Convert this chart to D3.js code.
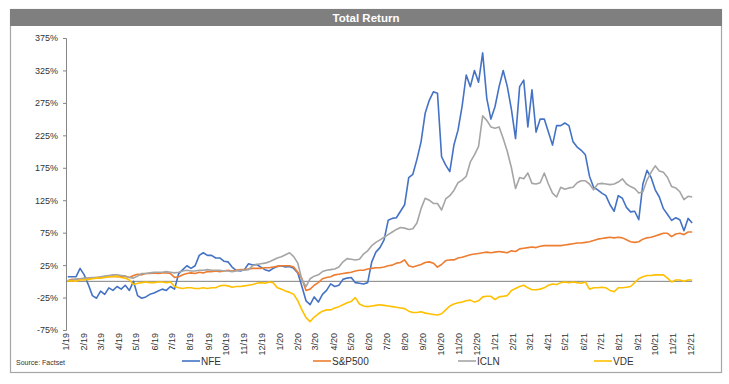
<!DOCTYPE html>
<html lang="en">
<head>
<meta charset="UTF-8">
<title>Total Return</title>
<script src="https://d3js.org/d3.v7.min.js"></script>
<style>
    body { margin: 0; background: #fff; }
    svg { display: block; font-family: "Liberation Sans", Arial, sans-serif; }
</style>
</head>
<body>
<div id="chart"></div>
<script>
    var width = 729, height = 384;

    // month labels on the x axis
    var monthLabels = ["1/19", "2/19", "3/19", "4/19", "5/19", "6/19", "7/19", "8/19", "9/19", "10/19", "11/19", "12/19",
                       "1/20", "2/20", "3/20", "4/20", "5/20", "6/20", "7/20", "8/20", "9/20", "10/20", "11/20", "12/20",
                       "1/21", "2/21", "3/21", "4/21", "5/21", "6/21", "7/21", "8/21", "9/21", "10/21", "11/21", "12/21"];
    var yTicks = [-75, -25, 25, 75, 125, 175, 225, 275, 325, 375];

    // weekly observations, first one on this date
    var firstDate = "2019-01-04";

    // total return in %, one value per week
    var nfe = [7, 7, 7, 20, 10, -5, -22, -26, -15, -20,
               -10, -14, -8, -12, -6, -14, 0, -22, -26, -24,
               -20, -18, -15, -12, -14, -8, -12, 12, 18, 24,
               20, 24, 40, 44, 40, 40, 36, 36, 31, 30,
               22, 17, 16, 18, 27, 25, 26, 22, 18, 16,
               20, 23, 24, 22, 23, 20, 13, -8, -30, -36,
               -24, -32, -20, -14, -4, -8, -6, 3, 5, 6,
               -2, -3, -4, -2, 30, 45, 52, 64, 94, 97,
               98, 108, 118, 160, 165, 188, 215, 259, 279, 292,
               290, 192, 179, 169, 210, 233, 270, 318, 300, 325,
               307, 352, 282, 250, 269, 300, 325, 300, 265, 220,
               300, 310, 238, 295, 230, 250, 250, 230, 210, 240,
               240, 244, 240, 215, 207, 202, 195, 162, 145, 141,
               136, 132, 118, 108, 132, 128, 114, 107, 108, 95,
               150, 171, 160, 141, 130, 112, 103, 94, 98, 95,
               78, 97, 90];

    var spx = [1, 3, 3, 4, 4, 5, 5, 6, 6, 7,
               7, 8, 7, 8, 8, 6, 9, 11, 10, 12,
               12, 13, 12, 13, 13, 12, 6, 7, 10, 12,
               13, 12, 14, 13, 15, 15, 16, 15, 16, 17,
               16, 17, 18, 18, 19, 20, 20, 20, 21, 21,
               22, 23, 24, 24, 24, 22, 14, 4, -14, -12,
               -6, -2, 4, 6, 7, 10, 11, 12, 13, 14,
               16, 17, 17, 19, 20, 21, 21, 22, 24, 25,
               28, 29, 33, 24, 22, 24, 26, 29, 30, 28,
               22, 26, 32, 33, 33, 36, 37, 39, 41, 42,
               43, 44, 45, 44, 45, 46, 45, 44, 47, 46,
               50, 51, 52, 53, 52, 54, 55, 55, 55, 55,
               55, 56, 57, 58, 59, 59, 60, 61, 63, 65,
               66, 67, 68, 67, 68, 67, 64, 61, 60, 61,
               65, 67, 68, 70, 72, 74, 74, 69, 73, 74,
               72, 76, 76];

    var icln = [1, 2, 3, 4, 5, 5, 6, 6, 7, 8,
                9, 10, 10, 9, 8, 6, 5, 8, 12, 12,
                13, 14, 14, 14, 15, 14, 13, 14, 16, 17,
                16, 16, 17, 17, 18, 17, 17, 17, 16, 16,
                15, 16, 17, 17, 18, 24, 26, 27, 28, 30,
                33, 36, 38, 41, 44, 38, 28, 2, -8, 4,
                8, 10, 15, 17, 18, 19, 22, 30, 35, 34,
                33, 34, 42, 47, 55, 60, 64, 68, 72, 76,
                80, 83, 82, 80, 81, 90, 112, 128, 125, 120,
                120, 110, 127, 132, 140, 152, 156, 162, 184, 195,
                208, 255, 248, 238, 236, 238, 220, 200, 175, 143,
                160, 158, 167, 151, 150, 152, 167, 150, 136, 130,
                145, 142, 144, 145, 152, 155, 155, 150, 141, 150,
                151, 150, 149, 150, 153, 158, 150, 146, 143, 136,
                138, 156, 168, 178, 170, 168, 160, 146, 144, 138,
                126, 131, 130];

    var vde = [0, 1, 0, 2, 2, 3, 4, 5, 5, 6,
               7, 7, 8, 6, 5, 2, -5, -3, -2, -1,
               -2, -2, -1, -1, -2, -1, -8, -10, -11, -10,
               -10, -11, -11, -10, -11, -10, -10, -7, -6, -7,
               -9, -8, -8, -7, -6, -5, -3, -2, -3, -1,
               -2, -10, -12, -15, -17, -20, -30, -44, -56, -62,
               -55, -50, -46, -44, -44, -41, -39, -36, -33, -31,
               -25, -35, -38, -39, -38, -37, -36, -37, -38, -39,
               -40, -41, -42, -46, -48, -48, -47, -49, -50, -51,
               -52, -50, -44, -38, -35, -33, -32, -30, -29, -32,
               -30, -24, -23, -23, -28, -24, -23, -22, -14, -11,
               -8, -6, -10, -13, -13, -12, -10, -6, -4, -5,
               -2, -1, -2, -1, -2, -3, -1, -12, -10, -10,
               -9, -10, -14, -16, -10, -10, -9, -8, -2, 4,
               7, 9, 9, 10, 10, 10, 5, -1, 2, 2,
               0, 2, 2];

    var seriesNames = ["NFE", "S&P500", "ICLN", "VDE"];
    var seriesColors = ["#4472C4", "#ED7D31", "#A5A5A5", "#FFC000"];
    var seriesValues = [nfe, spx, icln, vde];

    var parseMonth = d3.timeParse("%m/%y");
    var monthDates = monthLabels.map(function(d) { return parseMonth(d); });
    var start = d3.timeParse("%Y-%m-%d")(firstDate);
    var dates = nfe.map(function(d, i) { return d3.timeDay.offset(start, 7 * i); });

    var svg = d3.select("#chart").append("svg")
        .attr("width", width)
        .attr("height", height);

    // frame and title bar
    svg.append("rect")
        .attr("x", 10.5).attr("y", 9.5).attr("width", 711).attr("height", 363)
        .attr("fill", "#fff").attr("stroke", "#a6a6a6").attr("stroke-width", 1.2);
    svg.append("rect")
        .attr("x", 10).attr("y", 9).attr("width", 712).attr("height", 17)
        .attr("fill", "#7f7f7f");
    svg.append("text")
        .attr("x", 366).attr("y", 21.5)
        .attr("text-anchor", "middle")
        .style("font-family", '"Liberation Sans Narrow", "Arial Narrow", "Liberation Sans", sans-serif')
        .style("font-weight", "bold")
        .style("font-size", "11.5px")
        .attr("fill", "#fff")
        .text("Total Return");

    var x = d3.scaleTime()
        .domain([monthDates[0], monthDates[monthDates.length - 1]])
        .range([66, 691]);
    var y = d3.scaleLinear()
        .domain([-75, 375])
        .range([330, 38]);

    // y axis
    var yAxis = svg.append("g")
        .attr("transform", "translate(66,0)")
        .call(d3.axisLeft(y).tickValues(yTicks).tickSize(3).tickPadding(5)
            .tickFormat(function(d) { return d + "%"; }));
    yAxis.select(".domain").attr("stroke", "#868686");
    yAxis.selectAll(".tick line").attr("stroke", "#868686");
    yAxis.selectAll("text").attr("fill", "#333").style("font-size", "9px")
        .style("font-family", '"Liberation Sans", Arial, sans-serif');

    // zero line
    svg.append("line")
        .attr("x1", 66).attr("x2", x(dates[dates.length - 1]))
        .attr("y1", y(0)).attr("y2", y(0))
        .attr("stroke", "#808080").attr("stroke-width", 1);

    // x labels, rotated, below the plot
    svg.append("g").selectAll("text")
        .data(monthDates)
        .enter()
        .append("text")
        .attr("transform", function(d) { return "translate(" + (x(d) + 3) + ",333) rotate(-90)"; })
        .attr("text-anchor", "end")
        .attr("fill", "#333")
        .style("font-size", "9px")
        .text(function(d, i) { return monthLabels[i]; });

    // series lines
    var line = d3.line()
        .x(function(d, i) { return x(dates[i]); })
        .y(function(d) { return y(d); });

    svg.append("g").selectAll("path")
        .data(seriesValues)
        .enter()
        .append("path")
        .attr("d", line)
        .attr("fill", "none")
        .attr("stroke", function(d, i) { return seriesColors[i]; })
        .attr("stroke-width", 1.6)
        .attr("stroke-linejoin", "round");

    // legend
    var legendX = [182, 313, 458, 594];
    var legend = svg.append("g").selectAll("g")
        .data(seriesNames)
        .enter()
        .append("g")
        .attr("transform", function(d, i) { return "translate(" + legendX[i] + ",361)"; });
    legend.append("line")
        .attr("x1", 0).attr("x2", 18)
        .attr("stroke", function(d, i) { return seriesColors[i]; })
        .attr("stroke-width", 1.6);
    legend.append("text")
        .attr("x", 19).attr("y", 3.5)
        .attr("fill", "#333")
        .style("font-size", "10px")
        .text(function(d) { return d; });

    svg.append("text")
        .attr("x", 16).attr("y", 365)
        .attr("fill", "#333")
        .style("font-size", "7px")
        .text("Source: Factset");
</script>
</body>
</html>
